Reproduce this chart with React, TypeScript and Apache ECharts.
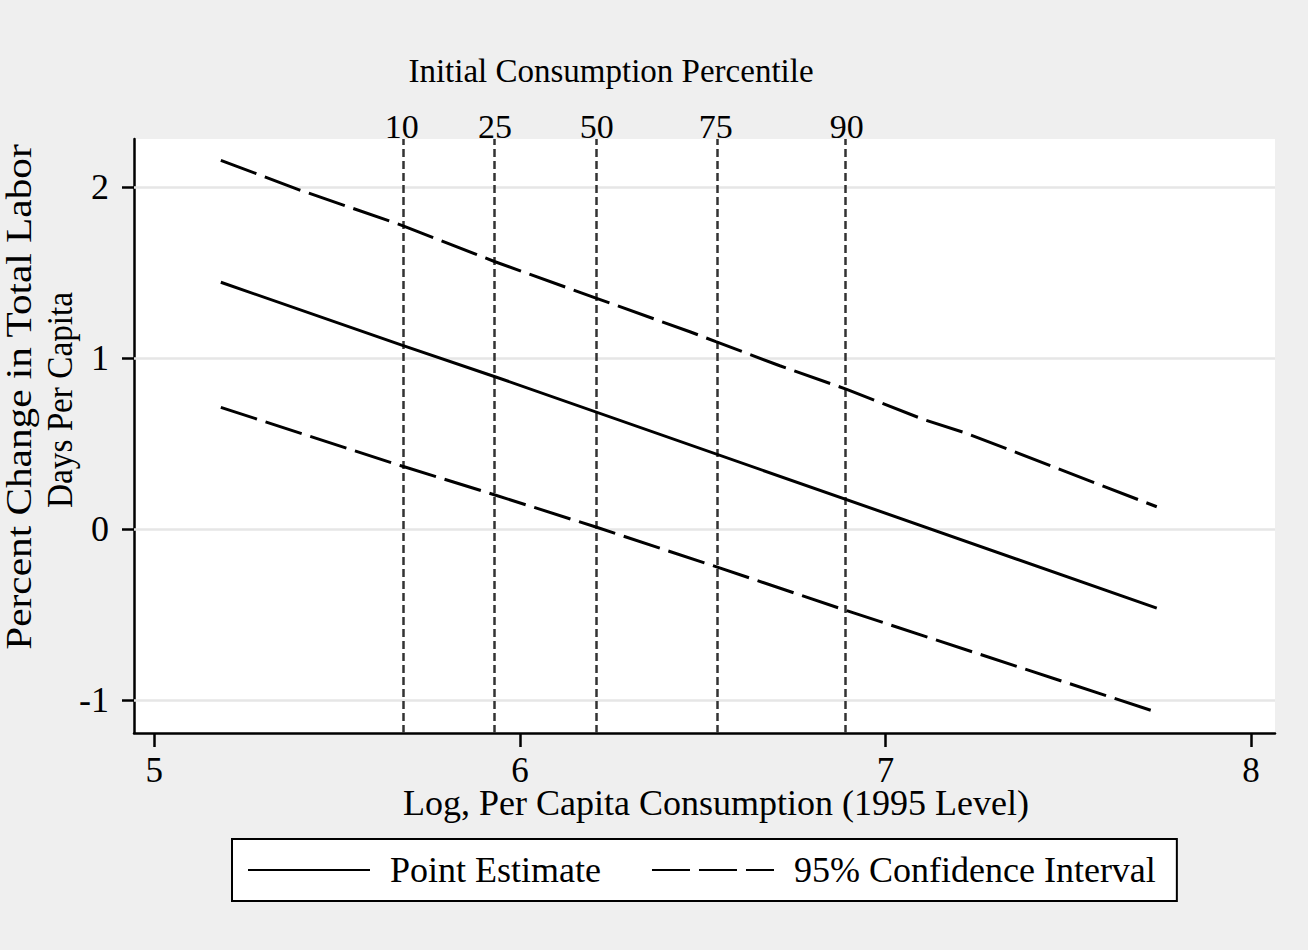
import React, { useEffect, useRef } from "react";
import * as echarts from "echarts";

// ---- data ----
const xTicks = [5, 6, 7, 8];
const yTicks = [-1, 0, 1, 2];
const pctPositions = [5.677, 5.932, 6.21, 6.536, 6.894];
const pctLabels = ["10", "25", "50", "75", "90"];

const pointEstimate: [number, number][] = [
  [5.182, 1.442],
  [5.677, 1.075],
  [5.932, 0.89],
  [7.742, -0.462],
];
const upperCI: [number, number][] = [
  [5.182, 2.155],
  [5.398, 1.981],
  [5.677, 1.775],
  [5.932, 1.562],
  [6.21, 1.348],
  [6.465, 1.153],
  [6.536, 1.095],
  [6.711, 0.954],
  [6.894, 0.816],
  [7.103, 0.641],
  [7.222, 0.559],
  [7.742, 0.13],
];
const lowerCI: [number, number][] = [
  [5.182, 0.711],
  [5.677, 0.368],
  [5.932, 0.199],
  [6.21, 0.01],
  [6.536, -0.22],
  [6.894, -0.477],
  [7.742, -1.071],
];

const FONT = '"Liberation Serif", "Times New Roman", serif';

export default function App() {
  const ref = useRef<HTMLDivElement>(null);
  useEffect(() => {
    if (!ref.current) return;
    const chart = echarts.init(ref.current, null, { renderer: "svg" });
    const ciStyle = { color: "#000", width: 3, type: [38, 9] as any };
    chart.setOption({
      animation: false,
      backgroundColor: "#efefef",
      grid: {
        left: 134,
        right: 33,
        top: 139,
        bottom: 217,
        show: true,
        backgroundColor: "#ffffff",
        borderWidth: 0,
      },
      xAxis: [
        {
          type: "value",
          position: "bottom",
          min: 4.9445,
          max: 8.0654,
          axisLine: { show: true, onZero: false, lineStyle: { color: "#000", width: 2.5 } },
          axisTick: { show: true, length: 14, customValues: xTicks, lineStyle: { color: "#000", width: 2.5 } },
          axisLabel: { customValues: xTicks, fontSize: 35, fontFamily: FONT, color: "#000", margin: 20 },
          splitLine: { show: false },
        },
        {
          type: "value",
          position: "top",
          min: 4.9445,
          max: 8.0654,
          axisLine: { show: false },
          axisTick: { show: false },
          axisLabel: {
            customValues: pctPositions,
            fontSize: 34,
            fontFamily: FONT,
            color: "#000",
            margin: -4,
            formatter: (v: number) => {
              const i = pctPositions.findIndex((p) => Math.abs(p - v) < 1e-6);
              return i >= 0 ? pctLabels[i] : "";
            },
          },
          splitLine: { show: false },
        },
      ],
      yAxis: {
        type: "value",
        min: -1.1923,
        max: 2.2794,
        axisLine: { show: true, onZero: false, lineStyle: { color: "#000", width: 2.5 } },
        axisTick: { show: true, length: 12, customValues: yTicks, lineStyle: { color: "#000", width: 2.5 } },
        axisLabel: { customValues: yTicks, fontSize: 36, fontFamily: FONT, color: "#000", margin: 25 },
        splitLine: { show: false },
      },
      legend: {
        data: ["Point Estimate", "95% Confidence Interval"],
        left: 232,
        top: 839,
        orient: "horizontal",
        backgroundColor: "#fff",
        borderColor: "#000",
        borderWidth: 2,
        padding: [13, 21, 13, 15],
        itemWidth: 122,
        itemHeight: 20,
        itemGap: 50,
        selectedMode: false,
        itemStyle: { opacity: 0 },
        textStyle: { fontSize: 36, fontFamily: FONT, color: "#000", padding: [0, 0, 0, 15] },
      },
      graphic: [
        {
          type: "text",
          x: 611,
          y: 71,
          style: { text: "Initial Consumption Percentile", fontSize: 33, fontFamily: FONT, fill: "#000", align: "center", verticalAlign: "middle" },
        },
        {
          type: "text",
          x: 716,
          y: 803,
          style: { text: "Log, Per Capita Consumption (1995 Level)", fontSize: 36, fontFamily: FONT, fill: "#000", align: "center", verticalAlign: "middle" },
        },
        {
          type: "text",
          x: 19,
          y: 397,
          rotation: Math.PI / 2,
          scaleX: 1.18,
          style: { text: "Percent Change in Total Labor", fontSize: 35, fontFamily: FONT, fill: "#000", align: "center", verticalAlign: "middle" },
        },
        {
          type: "text",
          x: 60,
          y: 400,
          rotation: Math.PI / 2,
          scaleX: 0.95,
          style: { text: "Days Per Capita", fontSize: 35, fontFamily: FONT, fill: "#000", align: "center", verticalAlign: "middle" },
        },
      ],
      series: [
        {
          type: "line",
          data: [],
          z: 1,
          silent: true,
          markLine: {
            silent: true,
            symbol: "none",
            label: { show: false },
            lineStyle: { color: "#e6e6e6", width: 2.5, type: "solid" },
            data: yTicks.map((v) => ({ yAxis: v })),
          },
        },
        {
          type: "line",
          data: [],
          z: 2,
          silent: true,
          markLine: {
            silent: true,
            symbol: "none",
            label: { show: false },
            lineStyle: { color: "#333", width: 2.5, type: [8, 4] },
            data: pctPositions.map((v) => ({ xAxis: v })),
          },
        },
        {
          name: "Point Estimate",
          type: "line",
          z: 5,
          data: pointEstimate,
          symbol: "none",
          lineStyle: { color: "#000", width: 3 },
          itemStyle: { color: "#000" },
        },
        {
          name: "95% Confidence Interval",
          type: "line",
          z: 5,
          data: upperCI,
          symbol: "none",
          lineStyle: ciStyle,
          itemStyle: { color: "#000" },
        },
        {
          name: "95% Confidence Interval",
          type: "line",
          z: 5,
          data: lowerCI,
          symbol: "none",
          lineStyle: ciStyle,
          itemStyle: { color: "#000" },
        },
      ],
    });
    return () => chart.dispose();
  }, []);
  return (
    <div
      ref={ref}
      style={{ position: "absolute", left: 0, top: 0, width: 1308, height: 950 }}
    />
  );
}
